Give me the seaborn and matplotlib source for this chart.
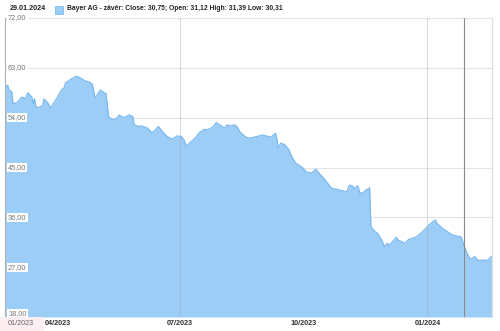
import matplotlib
matplotlib.use("Agg")
import matplotlib.pyplot as plt
import seaborn as sns
import pandas as pd

dates = [
    "2023-02-21", "2023-02-23", "2023-02-24", "2023-02-26", "2023-02-27", "2023-03-02",
    "2023-03-05", "2023-03-06", "2023-03-08", "2023-03-10", "2023-03-13", "2023-03-14",
    "2023-03-15", "2023-03-16", "2023-03-19", "2023-03-21", "2023-03-22", "2023-03-25",
    "2023-03-27", "2023-03-29", "2023-04-01", "2023-04-04", "2023-04-06", "2023-04-07",
    "2023-04-09", "2023-04-12", "2023-04-15", "2023-04-17", "2023-04-19", "2023-04-22",
    "2023-04-25", "2023-04-27", "2023-04-29", "2023-05-02", "2023-05-03", "2023-05-06",
    "2023-05-07", "2023-05-09", "2023-05-12", "2023-05-15", "2023-05-17", "2023-05-19",
    "2023-05-21", "2023-05-23", "2023-05-24", "2023-05-27", "2023-05-28", "2023-05-31",
    "2023-06-02", "2023-06-05", "2023-06-07", "2023-06-10", "2023-06-12", "2023-06-15",
    "2023-06-18", "2023-06-21", "2023-06-25", "2023-06-27", "2023-06-29", "2023-07-02",
    "2023-07-04", "2023-07-06", "2023-07-08", "2023-07-10", "2023-07-13", "2023-07-15",
    "2023-07-19", "2023-07-21", "2023-07-24", "2023-07-26", "2023-07-28", "2023-08-01",
    "2023-08-03", "2023-08-05", "2023-08-08", "2023-08-10", "2023-08-12", "2023-08-15",
    "2023-08-19", "2023-08-21", "2023-08-24", "2023-08-27", "2023-08-29", "2023-08-31",
    "2023-09-03", "2023-09-05", "2023-09-07", "2023-09-10", "2023-09-11", "2023-09-12",
    "2023-09-14", "2023-09-17", "2023-09-20", "2023-09-22", "2023-09-25", "2023-09-27",
    "2023-09-30", "2023-10-03", "2023-10-05", "2023-10-07", "2023-10-10", "2023-10-12",
    "2023-10-15", "2023-10-18", "2023-10-20", "2023-10-22", "2023-10-25", "2023-10-28",
    "2023-10-30", "2023-11-02", "2023-11-04", "2023-11-06", "2023-11-08", "2023-11-10",
    "2023-11-12", "2023-11-15", "2023-11-17", "2023-11-18", "2023-11-19", "2023-11-20",
    "2023-11-23", "2023-11-25", "2023-11-28", "2023-11-30", "2023-12-02", "2023-12-04",
    "2023-12-06", "2023-12-09", "2023-12-10", "2023-12-13", "2023-12-15", "2023-12-18",
    "2023-12-21", "2023-12-24", "2023-12-27", "2023-12-30", "2024-01-02", "2024-01-05",
    "2024-01-07", "2024-01-08", "2024-01-11", "2024-01-13", "2024-01-16", "2024-01-18",
    "2024-01-20", "2024-01-23", "2024-01-26", "2024-01-28", "2024-01-31", "2024-02-02",
    "2024-02-05", "2024-02-08", "2024-02-10", "2024-02-12", "2024-02-15", "2024-02-17",
    "2024-02-18",
]
close = [
    59.3, 59.9, 59.0, 58.7, 56.5, 56.7,
    57.6, 57.7, 57.4, 58.5, 57.7, 56.5,
    57.4, 55.9, 55.9, 56.2, 57.4, 56.6,
    55.7, 56.6, 57.7, 59.0, 59.4, 60.3,
    60.6, 61.1, 61.5, 61.3, 61.0, 60.6,
    60.4, 60.0, 57.5, 58.7, 59.0, 58.4,
    58.4, 54.2, 53.6, 53.9, 54.5, 54.1,
    54.1, 54.3, 54.5, 54.2, 52.7, 52.4,
    52.5, 52.3, 52.1, 51.3, 51.6, 52.4,
    51.5, 50.7, 50.1, 50.4, 50.7, 50.6,
    50.0, 48.8, 49.4, 49.8, 50.5, 51.2,
    51.9, 51.8, 52.1, 52.4, 53.1, 52.5,
    52.1, 52.7, 52.5, 52.7, 52.5, 51.3,
    50.5, 50.3, 50.4, 50.6, 50.7, 50.9,
    50.7, 50.6, 50.5, 51.2, 50.3, 48.5,
    49.4, 49.1, 48.2, 47.0, 45.8, 45.5,
    45.0, 44.2, 44.1, 44.0, 44.7, 44.1,
    43.3, 42.4, 41.8, 41.2, 41.1, 40.9,
    40.8, 40.6, 41.8, 41.7, 41.2, 41.7,
    40.3, 40.6, 41.1, 40.9, 41.4, 34.3,
    33.4, 33.1, 31.9, 30.7, 31.3, 31.0,
    31.6, 32.4, 31.9, 31.6, 31.3, 32.0,
    32.2, 32.5, 33.1, 33.8, 34.6, 35.2,
    35.5, 34.9, 34.3, 33.8, 33.4, 33.0,
    32.8, 32.6, 32.5, 31.0, 29.2, 28.4,
    28.9, 28.2, 28.3, 28.2, 28.3, 28.8,
    28.9,
]
y_ticks = [18, 27, 36, 45, 54, 63, 72]
y_tick_labels = ["18,00", "27,00", "36,00", "45,00", "54,00", "63,00", "72,00"]
x_tick_dates = ["2023-04-01", "2023-07-01", "2023-10-01", "2024-01-01"]
x_tick_labels = ["04/2023", "07/2023", "10/2023", "01/2024"]
x_grid_dates = ["2023-07-01", "2024-01-01"]
marker_date = "2024-01-28"
x_start, x_end = "2023-02-21", "2024-02-18"
start_label = "01/2023"
header_date = "29.01.2024"
legend_text = "Bayer AG - závěr: Close: 30,75; Open: 31,12 High: 31,39 Low: 30,31"

df = pd.DataFrame({"date": pd.to_datetime(dates), "close": close})

sns.set_theme(style="white")
plt.rcParams["font.family"] = ["Liberation Sans", "DejaVu Sans"]

fig = plt.figure(figsize=(5.0, 3.31), dpi=100)
ax = fig.add_axes([0.01, 0.0423, 0.974, 0.9033])

fill_c = "#9ccdf6"
line_c = "#7ab9ef"
ax.fill_between(df["date"], df["close"], 18, color=fill_c, linewidth=0, zorder=2)
sns.lineplot(data=df, x="date", y="close", ax=ax, color=line_c, linewidth=0.9, zorder=3)

ax.set_xlim(pd.Timestamp(x_start), pd.Timestamp(x_end))
ax.set_ylim(18, 72)

for yv in y_ticks:
    ax.axhline(yv, color="#e3e3e3", linewidth=0.8, zorder=1)
for d in x_grid_dates:
    ax.axvline(pd.Timestamp(d), color="#a0a8b0", linewidth=0.7, zorder=4, alpha=0.45)
ax.axvline(pd.Timestamp(marker_date), color="#8a8a8a", linewidth=0.8, zorder=4)

ax.set_yticks([])
ax.set_xticks([])
ax.set_xlabel("")
ax.set_ylabel("")

for s in ["top", "bottom"]:
    ax.spines[s].set_visible(False)
ax.spines["left"].set_color("#b0b0b0")
ax.spines["left"].set_linewidth(0.8)
ax.spines["right"].set_color("#dddddd")
ax.spines["right"].set_linewidth(0.8)

trans_y = ax.get_yaxis_transform()
for yv, lab in zip(y_ticks, y_tick_labels):
    va = "center" if yv != 18 else "bottom"
    ax.text(0.006, yv, lab, transform=trans_y, fontsize=5.3, color="#777777",
            ha="left", va=va, zorder=6,
            bbox=dict(boxstyle="square,pad=0.15", fc="white", ec="none"))

trans_x = ax.get_xaxis_transform()
for d, lab in zip(x_tick_dates, x_tick_labels):
    ax.text(pd.Timestamp(d), -0.01, lab, transform=trans_x, fontsize=5.2,
            color="#333333", ha="center", va="top", fontweight="bold", clip_on=False)

fig.patches.append(plt.Rectangle((0.0, 0.0), 0.088, 0.042, transform=fig.transFigure,
                                 fc="#fdeef1", ec="none", zorder=0))
fig.text(0.016, 0.034, start_label, fontsize=5.2, color="#666666", ha="left", va="top")

fig.text(0.02, 0.975, header_date, fontsize=5.2, color="#222222", ha="left", va="center",
         fontweight="bold")
fig.patches.append(plt.Rectangle((0.11, 0.958), 0.016, 0.025, transform=fig.transFigure,
                                 fc=fill_c, ec=line_c, lw=0.6))
fig.text(0.134, 0.975, legend_text, fontsize=4.85, color="#222222", ha="left", va="center",
         fontweight="bold")

fig.savefig("out.png", dpi=100)
